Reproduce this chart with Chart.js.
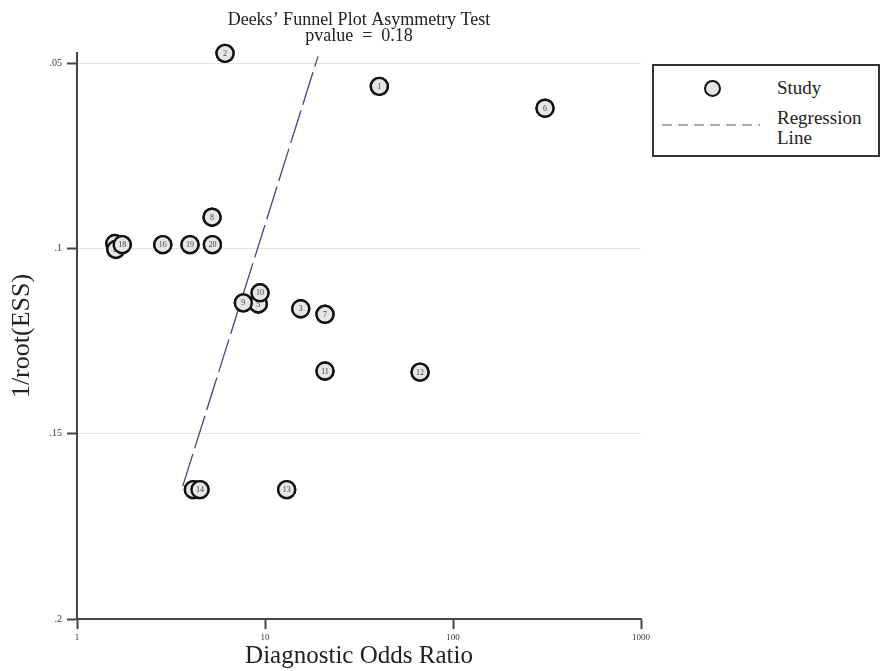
<!DOCTYPE html>
<html><head><meta charset="utf-8">
<script src="https://cdn.jsdelivr.net/npm/chart.js@4.4.1/dist/chart.umd.min.js"></script>
<style>
html,body{margin:0;padding:0;background:#fff;}
#wrap{position:relative;width:882px;height:671px;}
#legend{position:absolute;left:652px;top:64px;width:228px;height:93px;border:2px solid #333;box-sizing:border-box;font-family:"Liberation Serif",serif;font-size:19px;color:#222;background:#fff;}
#legend .sym{position:absolute;left:49.5px;top:13.5px;width:13px;height:13px;border:2.3px solid #111;border-radius:50%;background:#e4e4e4;}
#legend .dash{position:absolute;left:8px;top:58px;width:98px;height:2px;background:repeating-linear-gradient(to right,#a9adc8 0 10px,transparent 10px 16px);}
#legend .t{position:absolute;left:123px;line-height:20px;white-space:nowrap;}
</style></head>
<body>
<div id="wrap">
<canvas id="c" width="882" height="671"></canvas>
<div id="legend">
  <div class="sym"></div><div class="t" style="top:12px">Study</div>
  <div class="dash"></div><div class="t" style="top:42px">Regression</div><div class="t" style="top:62px">Line</div>
</div>
</div>
<script>
const studyLabels = ['1','2','3','4','5','6','7','8','9','10','11','12','13','14','15','16','17','18','19','20'];
const dorValues = [40.55, 6.13, 15.49, 4.16, 9.21, 308.7, 20.85, 5.23, 7.67, 9.41, 20.85, 66.8, 13.04, 4.51, 1.59, 2.86, 1.61, 1.74, 3.99, 5.25];
const invRootEss = [0.0563, 0.0474, 0.1163, 0.1651, 0.1150, 0.0622, 0.1178, 0.0916, 0.1147, 0.1120, 0.1331, 0.1334, 0.1651, 0.1651, 0.0987, 0.0990, 0.1003, 0.0990, 0.0990, 0.0990];
const regLineX = [3.65, 19.14];
const regLineY = [0.1642, 0.0482];
const xTicks = [1, 10, 100, 1000];
const yTicks = [0.05, 0.1, 0.15, 0.2];
const titleLines = ['Deeks\u2019 Funnel Plot Asymmetry Test', 'pvalue  =  0.18'];

const FONT = '"Liberation Serif", "Times New Roman", serif';

const labelPlugin = {
  id: 'studyLabels',
  afterDatasetDraw(chart, args) {
    if (args.index !== 0) return;
    const ctx = chart.ctx;
    ctx.save();
    args.meta.data.forEach((el, i) => {
      el.draw(ctx);
      ctx.font = '8px ' + FONT;
      ctx.fillStyle = '#444';
      ctx.textAlign = 'center';
      ctx.textBaseline = 'middle';
      ctx.fillText(studyLabels[i], el.x, el.y + 0.5);
    });
    ctx.restore();
  }
};

new Chart(document.getElementById('c'), {
  type: 'scatter',
  data: {
    datasets: [
      {
        label: 'Study',
        data: dorValues.map((v, i) => ({x: v, y: invRootEss[i]})),
        pointRadius: 8.5,
        pointHoverRadius: 8.5,
        pointBorderWidth: 2.4,
        pointBackgroundColor: '#e6e6e6',
        pointBorderColor: '#111',
        clip: false,
        order: 0
      },
      {
        type: 'line',
        label: 'Regression Line',
        data: regLineX.map((v, i) => ({x: v, y: regLineY[i]})),
        borderColor: '#434390',
        borderWidth: 1.3,
        borderDash: [34, 6],
        pointRadius: 0,
        fill: false,
        clip: false,
        order: 1
      }
    ]
  },
  options: {
    responsive: false,
    animation: false,
    devicePixelRatio: 1,
    events: [],
    layout: {padding: {left: 0, right: 241, top: 0, bottom: 0}},
    plugins: {
      legend: {display: false},
      tooltip: {enabled: false},
      title: {
        display: true,
        fullSize: false,
        text: titleLines,
        color: '#222',
        font: {family: FONT, size: 18, weight: 'normal', lineHeight: 0.889},
        padding: {top: 12.5, bottom: 8.5}
      }
    },
    scales: {
      x: {
        type: 'logarithmic',
        min: 1, max: 1000,
        afterBuildTicks: s => { s.ticks = xTicks.map(v => ({value: v})); },
        afterFit: s => { s.height = 52; },
        ticks: {
          callback: v => String(v),
          font: {family: FONT, size: 9},
          color: '#333', padding: 3, autoSkip: false, maxRotation: 0
        },
        grid: {drawOnChartArea: false, drawTicks: true, tickLength: 10, tickColor: '#444', tickWidth: 2},
        border: {color: '#444', width: 2},
        title: {display: true, text: 'Diagnostic Odds Ratio', color: '#222',
          font: {family: FONT, size: 25, lineHeight: 1.2}, padding: {top: 0, bottom: 0}}
      },
      y: {
        type: 'linear',
        reverse: true,
        min: 0.0473, max: 0.2,
        afterBuildTicks: s => { s.ticks = yTicks.map(v => ({value: v})); },
        afterFit: s => { s.width = 77; },
        ticks: {
          callback: v => String(v).replace(/^0\./, '.'),
          font: {family: FONT, size: 10},
          color: '#333', padding: 5, autoSkip: false
        },
        grid: {color: '#dbe6ec', lineWidth: 1, drawTicks: true, tickLength: 10, tickColor: '#444', tickWidth: 2},
        border: {color: '#444', width: 2},
        title: {display: true, text: '1/root(ESS)', color: '#222',
          font: {family: FONT, size: 26, lineHeight: 1.2}, padding: {top: 7, bottom: 0}}
      }
    }
  },
  plugins: [labelPlugin]
});
</script>
</body></html>
